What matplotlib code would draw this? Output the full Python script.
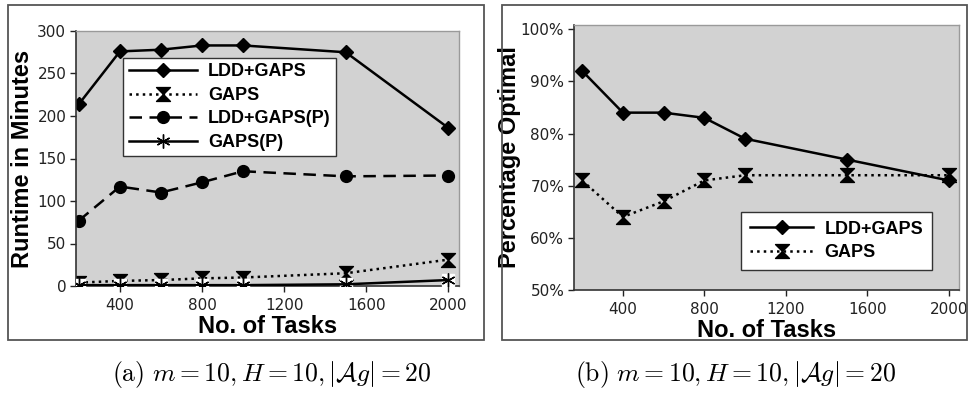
import matplotlib
matplotlib.use("Agg")
import matplotlib.pyplot as plt
from matplotlib.path import Path
from matplotlib.patches import Rectangle
from matplotlib.ticker import FuncFormatter

tasks = [200, 400, 600, 800, 1000, 1500, 2000]

rt_ldd_gaps = [214, 276, 278, 283, 283, 275, 186]
rt_gaps = [4, 6, 7, 9, 10, 15, 31]
rt_ldd_gaps_p = [77, 117, 110, 122, 135, 129, 130]
rt_gaps_p = [1, 1, 1, 1, 1, 2, 7]

opt_ldd_gaps = [92, 84, 84, 83, 79, 75, 71]
opt_gaps = [71, 64, 67, 71, 72, 72, 72]

xticks = [400, 800, 1200, 1600, 2000]
yticks_a = [0, 50, 100, 150, 200, 250, 300]
yticks_b = [50, 60, 70, 80, 90, 100]

captions = [r"$\mathrm{(a)}\ m = 10, H = 10, |\mathcal{A}g| = 20$",
            r"$\mathrm{(b)}\ m = 10, H = 10, |\mathcal{A}g| = 20$"]

plt.rcParams['mathtext.fontset'] = 'cm'
plt.rcParams['font.family'] = ['DejaVu Sans']

W, H = 968, 400
fig = plt.figure(figsize=(W / 100, H / 100), dpi=100)

def fbox(x0, y0, x1, y1):
    return [x0 / W, 1 - y1 / H, (x1 - x0) / W, (y1 - y0) / H]

# hourglass marker
hg = Path([(-1, 1), (1, 1), (0, 0), (1, -1), (-1, -1), (0, 0), (-1, 1)],
          [Path.MOVETO, Path.LINETO, Path.LINETO, Path.LINETO, Path.LINETO,
           Path.LINETO, Path.CLOSEPOLY])

BG = '#d2d2d2'
label_font = dict(fontsize=17, fontweight='bold', family='Liberation Sans')
leg_font = dict(size=13, weight='bold', family='Liberation Sans')

# panel frames
for (x0, x1) in [(8, 484), (502, 967)]:
    fig.patches.append(Rectangle((x0 / W, 1 - 340 / H), (x1 - x0) / W, 335 / H,
                                 transform=fig.transFigure, fill=False,
                                 edgecolor='#555555', linewidth=1.3))

def style(ax):
    ax.set_facecolor(BG)
    for s in ['top', 'right']:
        ax.spines[s].set_color('#9a9a9a')
        ax.spines[s].set_linewidth(1.0)
    for s in ['left', 'bottom']:
        ax.spines[s].set_color('#333333')
        ax.spines[s].set_linewidth(1.2)
    ax.tick_params(direction='out', length=4, width=1, colors='#222222',
                   labelsize=11, pad=3)
    ax.tick_params(axis='x', pad=5)
    ax.set_xticks(xticks)
    ax.set_xlabel('No. of Tasks', labelpad=1, **label_font)

def fix_ticks(ax):
    for t in ax.get_xticklabels() + ax.get_yticklabels():
        t.set_fontfamily('DejaVu Sans')
        t.set_fontsize(11)

def legend_frame(lg):
    lg.get_frame().set_edgecolor('#333333')
    lg.get_frame().set_linewidth(1.0)
    lg.get_frame().set_alpha(1)

# ---- panel (a)
axa = fig.add_axes(fbox(76, 31, 459, 286))
style(axa)
axa.set_xlim(186, 2052)
axa.set_ylim(0, 300)
axa.set_yticks(yticks_a)
fix_ticks(axa)
axa.plot(tasks, rt_ldd_gaps, '-', color='black', lw=1.8, marker='D', ms=7,
         label='LDD+GAPS')
axa.plot(tasks, rt_gaps, ':', color='black', lw=1.8, marker=hg, ms=10,
         label='GAPS')
axa.plot(tasks, rt_ldd_gaps_p, color='black', lw=1.8, dashes=(5, 3),
         marker='o', ms=8.5, label='LDD+GAPS(P)')
axa.plot(tasks, rt_gaps_p, ' ', marker='s', ms=9, color='white', zorder=3)
axa.plot(tasks, rt_gaps_p, '-', color='black', lw=1.8, marker=(6, 2, 0),
         ms=10, mew=1.0, label='GAPS(P)', zorder=4)
axa.set_ylabel('Runtime in Minutes', labelpad=2, **label_font)
leg = axa.legend(loc='upper left', bbox_to_anchor=(0.123, 0.894), prop=leg_font,
                 frameon=True, fancybox=False, handlelength=3.8,
                 borderpad=0.3, labelspacing=0.36, handletextpad=0.6,
                 borderaxespad=0)
legend_frame(leg)

# ---- panel (b)
axb = fig.add_axes(fbox(574, 25, 959, 290))
style(axb)
axb.set_xlim(160, 2050)
axb.set_ylim(50, 100.8)
axb.set_yticks(yticks_b)
axb.yaxis.set_major_formatter(FuncFormatter(lambda v, p: f"{v:.0f}%"))
fix_ticks(axb)
axb.plot(tasks, opt_ldd_gaps, '-', color='black', lw=1.8, marker='D', ms=7,
         label='LDD+GAPS')
axb.plot(tasks, opt_gaps, ':', color='black', lw=1.8, marker=hg, ms=10,
         label='GAPS')
axb.set_ylabel('Percentage Optimal', labelpad=0, **label_font)
legb = axb.legend(loc='lower right', bbox_to_anchor=(0.93, 0.075), prop=leg_font,
                  frameon=True, fancybox=False, handlelength=3.5,
                  borderpad=0.5, labelspacing=0.36, handletextpad=0.6,
                  borderaxespad=0)
legend_frame(legb)

fig.text(272 / W, 1 - 375 / H, captions[0], ha='center', va='center', fontsize=18.5)
fig.text(735 / W, 1 - 375 / H, captions[1], ha='center', va='center', fontsize=18.5)

fig.savefig('out.png', dpi=100, facecolor='white')
